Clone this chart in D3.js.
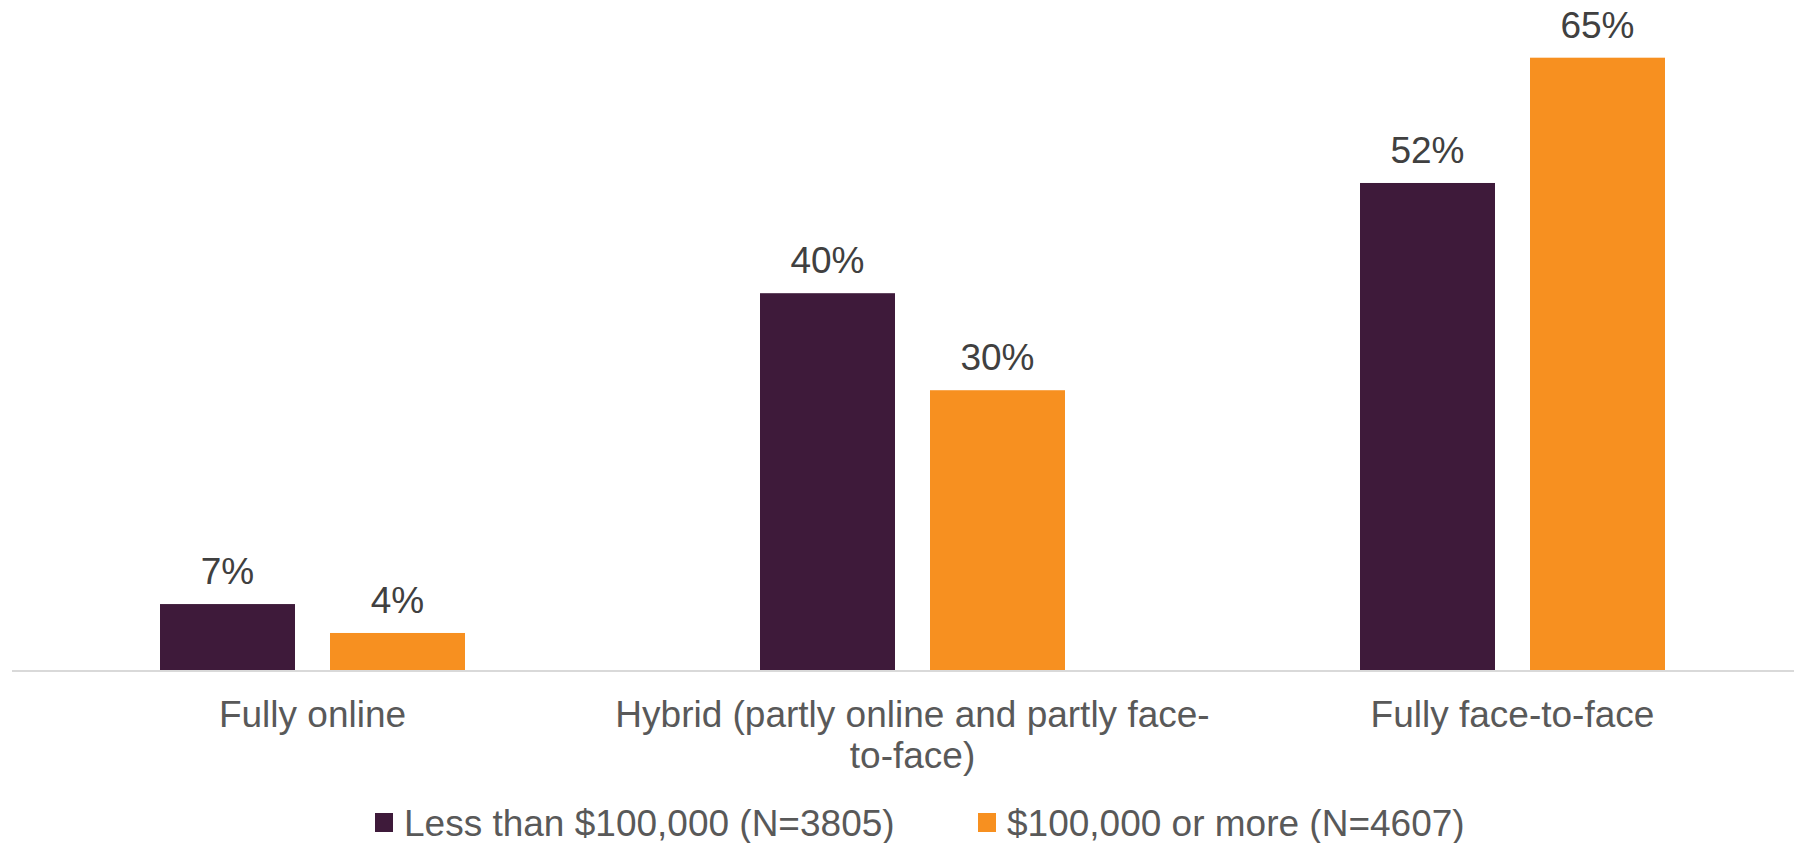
<!DOCTYPE html>
<html>
<head>
<meta charset="utf-8">
<script src="https://cdn.jsdelivr.net/npm/d3@7"></script>
<style>
  html, body { margin: 0; padding: 0; background: #ffffff; }
  svg { display: block; }
  text { font-family: "Liberation Sans", Arial, sans-serif; }
</style>
</head>
<body>
<svg id="chart" width="1794" height="843"></svg>
<script>
const categories = ["Fully online", "Hybrid (partly online and partly face-to-face)", "Fully face-to-face"];
const categoryLines = [["Fully online"], ["Hybrid (partly online and partly face-", "to-face)"], ["Fully face-to-face"]];
const seriesNames = ["Less than $100,000 (N=3805)", "$100,000 or more (N=4607)"];
const lessThan100k = [7, 40, 51.7];
const moreThan100k = [3.93, 29.7, 65];
const seriesColors = ["#3E1A3A", "#F79020"];

const W = 1794, H = 843;
const svg = d3.select("#chart");

const baseline = 670;
const x0 = d3.scaleBand().domain(categories).range([12.5, 1812.5]).padding(0);
const x1 = d3.scaleBand().domain(seriesNames).range([147.5, 452.5]).paddingInner(35 / 170).paddingOuter(0);
const y = d3.scaleLinear().domain([0, 65]).range([baseline, 57.7]);

const fmt = v => d3.format(".0f")(v) + "%";

const data = categories.map((c, i) => ({
  cat: c,
  vals: [
    { s: seriesNames[0], v: lessThan100k[i], color: seriesColors[0] },
    { s: seriesNames[1], v: moreThan100k[i], color: seriesColors[1] }
  ]
}));

// axis baseline
const axis = d3.axisBottom(x0).tickSize(0).tickFormat("");
const axG = svg.append("g").attr("transform", `translate(0,${baseline + 1})`).call(axis);
axG.select(".domain").attr("stroke", "#D9D9D9").attr("stroke-width", 2)
  .attr("d", `M12,0H${W}`);

// bars
const groups = svg.selectAll("g.grp").data(data).join("g")
  .attr("class", "grp")
  .attr("transform", d => `translate(${x0(d.cat)},0)`);

groups.selectAll("rect").data(d => d.vals).join("rect")
  .attr("x", d => x1(d.s))
  .attr("width", x1.bandwidth())
  .attr("y", d => y(d.v))
  .attr("height", d => baseline - y(d.v))
  .attr("fill", d => d.color);

groups.selectAll("text.val").data(d => d.vals).join("text")
  .attr("class", "val")
  .attr("x", d => x1(d.s) + x1.bandwidth() / 2)
  .attr("y", d => y(d.v) - 20)
  .attr("text-anchor", "middle")
  .attr("font-size", 37)
  .attr("fill", "#404040")
  .text(d => fmt(d.v));

// category labels
categories.forEach((c, i) => {
  const t = svg.append("text")
    .attr("text-anchor", "middle")
    .attr("font-size", 37)
    .attr("fill", "#595959");
  categoryLines[i].forEach((line, j) => {
    t.append("tspan")
      .attr("x", x0(c) + x0.bandwidth() / 2)
      .attr("y", 727 + j * 40.5)
      .text(line);
  });
});

// legend
const legendX = [375, 978];
seriesNames.forEach((s, i) => {
  const g = svg.append("g").attr("transform", `translate(${legendX[i]},0)`);
  g.append("rect").attr("x", 0).attr("y", 813).attr("width", 18).attr("height", 19).attr("fill", seriesColors[i]);
  g.append("text").attr("x", 29).attr("y", 836)
    .attr("font-size", 37).attr("fill", "#595959").text(s);
});
</script>
</body>
</html>
